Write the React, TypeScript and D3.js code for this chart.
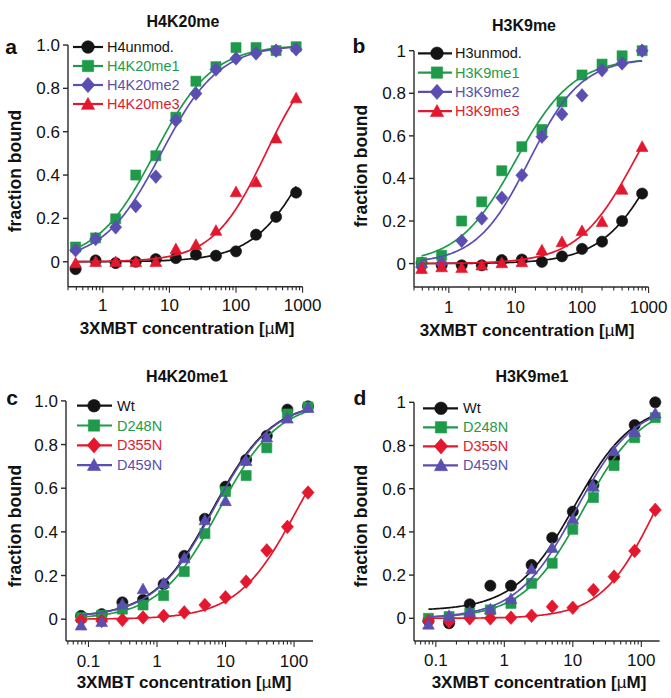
import React from "react";
import * as d3 from "d3";

// ---- concentrations (µM) ----
const concAB = [0.39, 0.78, 1.56, 3.125, 6.25, 12.5, 25, 50, 100, 200, 400, 800];
const concCD = [0.078, 0.156, 0.3125, 0.625, 1.25, 2.5, 5, 10, 20, 40, 80, 160];

// ---- panel a : H4K20me ----
const aH4unmod = [-0.034, 0.006, -0.006, 0, 0.012, 0.017, 0.033, 0.028, 0.048, 0.125, 0.207, 0.319];
const aH4K20me1 = [0.068, 0.11, 0.198, 0.4, 0.489, 0.667, 0.833, 0.9, 0.988, 0.988, 0.974, 0.992];
const aH4K20me2 = [0.053, 0.105, 0.159, 0.257, 0.393, 0.652, 0.776, 0.887, 0.938, 0.961, 0.974, 0.98];
const aH4K20me3 = [-0.006, 0, 0, 0, 0, 0.059, 0.079, 0.144, 0.322, 0.368, 0.57, 0.755];

// ---- panel b : H3K9me ----
const bH3unmod = [0.003, -0.008, -0.008, -0.008, 0.016, 0.019, 0.008, 0.034, 0.069, 0.103, 0.2, 0.329];
const bH3K9me1 = [0.005, 0.039, 0.2, 0.29, 0.436, 0.549, 0.63, 0.76, 0.886, 0.937, 0.976, 1.0];
const bH3K9me2 = [-0.016, 0, 0.107, 0.212, 0.309, 0.415, 0.596, 0.702, 0.79, 0.909, 0.94, 1.0];
const bH3K9me3 = [-0.024, -0.016, -0.02, -0.008, 0.003, 0.008, 0.063, 0.102, 0.154, 0.196, 0.348, 0.549];

// ---- panel c : H4K20me1 ----
const cWt = [0.015, 0.023, 0.077, 0.089, 0.16, 0.29, 0.46, 0.607, 0.73, 0.84, 0.96, 0.975];
const cD248N = [0.008, 0.018, 0.046, 0.065, 0.108, 0.218, 0.392, 0.585, 0.658, 0.785, 0.94, 0.972];
const cD355N = [-0.005, -0.008, -0.003, 0.008, 0.015, 0.031, 0.065, 0.1, 0.172, 0.315, 0.423, 0.58];
const cD459N = [-0.028, -0.012, 0.069, 0.138, 0.165, 0.28, 0.454, 0.542, 0.726, 0.834, 0.92, 0.969];

// ---- panel d : H3K9me1 ----
const dWt = [-0.01, -0.023, 0.065, 0.151, 0.151, 0.247, 0.373, 0.494, 0.617, 0.741, 0.895, 1.0];
const dD248N = [0, 0.008, 0.023, 0.039, 0.069, 0.162, 0.255, 0.412, 0.559, 0.707, 0.836, 0.929];
const dD355N = [-0.015, -0.015, 0, 0, 0.003, 0.012, 0.054, 0.049, 0.131, 0.193, 0.312, 0.502];
const dD459N = [-0.028, 0.012, 0.031, 0.043, 0.09, 0.228, 0.327, 0.46, 0.61, 0.775, 0.864, 0.949];

// ---- fitted binding curves: [bottom, top, Kd, Hill n] ----
const fitA = [[0, 1, 1500, 1], [0, 1, 6, 1], [0, 1, 7.5, 1], [0, 1, 280, 1.1]];
const fitB = [[0, 1, 1600, 1], [0, 0.965, 10, 1], [0, 0.965, 16, 1.1], [0, 1, 650, 1]];
const fitC = [[0.008, 1, 6.5, 1], [0, 1, 8, 1], [0, 1, 110, 1], [0.008, 1, 6.7, 1]];
const fitD = [[0.035, 1, 10.5, 1], [0, 1, 14, 1], [0, 1, 160, 1.1], [0, 1, 11, 1]];

// ---- labels ----
const namesA = ["H4unmod.", "H4K20me1", "H4K20me2", "H4K20me3"];
const namesB = ["H3unmod.", "H3K9me1", "H3K9me2", "H3K9me3"];
const namesCD = ["Wt", "D248N", "D355N", "D459N"];
const yTicks = [0, 0.2, 0.4, 0.6, 0.8, 1];

const BLACK = "#141414";
const GREEN = "#1f9a4a";
const PURPLE = "#5a4fb0";
const RED = "#e3172d";
const FONT = "'Liberation Sans', Arial, sans-serif";

type Shape = "circle" | "square" | "diamond" | "triangle";

function markerPath(shape: Shape, s: number): string {
  if (shape === "circle") {
    const r = s;
    return `M${-r},0A${r},${r} 0 1,0 ${r},0A${r},${r} 0 1,0 ${-r},0Z`;
  }
  if (shape === "square") {
    const h = s * 0.9;
    return `M${-h},${-h}H${h}V${h}H${-h}Z`;
  }
  if (shape === "diamond") {
    const w = s * 1.08, h = s * 1.22;
    return `M0,${-h}L${w},0L0,${h}L${-w},0Z`;
  }
  const w = s * 1.05, h = s * 1.0;
  return `M0,${-h * 1.05}L${w},${h * 0.85}L${-w},${h * 0.85}Z`;
}

interface Series {
  name: string;
  color: string;
  textColor: string;
  shape: Shape;
  values: number[];
  fit: number[];
}

interface PanelCfg {
  letter: string;
  title: string;
  conc: number[];
  series: Series[];
  xDomain: [number, number];
  xRange: [number, number];
  yDomain: [number, number];
  yRange: [number, number];
  yFmt: (v: number) => string;
  title_xy: [number, number];
  letter_xy: [number, number];
  ylab_xy: [number, number];
  xlab_xy: [number, number];
  xTickY: number;
  legend: { x0: number; x1: number; mx: number; tx: number; y0: number; dy: number };
}

const fmtA = (v: number) => (v === 0 ? "0" : v.toFixed(1));
const fmtB = (v: number) => (v === 0 ? "0" : v === 1 ? "1" : v.toFixed(1));

function hill(p: number[], x: number) {
  const [b, t, k, n] = p;
  const xn = Math.pow(x, n);
  return b + (t - b) * xn / (Math.pow(k, n) + xn);
}

function mkSeries(names: string[], vals: number[][], fits: number[][], cols: string[], shapes: Shape[]): Series[] {
  return names.map((n, i) => ({
    name: n,
    color: cols[i],
    textColor: cols[i],
    shape: shapes[i],
    values: vals[i],
    fit: fits[i],
  }));
}

const panels: PanelCfg[] = [
  {
    letter: "a",
    title: "H4K20me",
    conc: concAB,
    series: mkSeries(namesA, [aH4unmod, aH4K20me1, aH4K20me2, aH4K20me3], fitA,
      [BLACK, GREEN, PURPLE, RED], ["circle", "square", "diamond", "triangle"]),
    xDomain: [0.3, 1000],
    xRange: [68, 302.6],
    yDomain: [-0.115, 1],
    yRange: [286.7, 45],
    yFmt: fmtA,
    title_xy: [183, 27],
    letter_xy: [11, 54],
    ylab_xy: [21, 171],
    xlab_xy: [187, 334],
    xTickY: 311,
    legend: { x0: 73, x1: 103, mx: 88, tx: 107, y0: 47, dy: 19 },
  },
  {
    letter: "b",
    title: "H3K9me",
    conc: concAB,
    series: mkSeries(namesB, [bH3unmod, bH3K9me1, bH3K9me2, bH3K9me3], fitB,
      [BLACK, GREEN, PURPLE, RED], ["circle", "square", "diamond", "triangle"]),
    xDomain: [0.3, 1000],
    xRange: [414, 648.6],
    yDomain: [-0.11, 1],
    yRange: [287, 50.7],
    yFmt: fmtB,
    title_xy: [524, 31],
    letter_xy: [359, 53],
    ylab_xy: [367, 166],
    xlab_xy: [527, 336],
    xTickY: 313,
    legend: { x0: 418, x1: 452, mx: 437, tx: 455, y0: 53.3, dy: 19.3 },
  },
  {
    letter: "c",
    title: "H4K20me1",
    conc: concCD,
    series: mkSeries(namesCD, [cWt, cD248N, cD355N, cD459N], fitC,
      [BLACK, GREEN, RED, PURPLE], ["circle", "square", "diamond", "triangle"]),
    xDomain: [0.047, 189],
    xRange: [66, 313],
    yDomain: [-0.1, 1],
    yRange: [641, 400.9],
    yFmt: fmtA,
    title_xy: [187, 382],
    letter_xy: [12, 405],
    ylab_xy: [21, 526],
    xlab_xy: [184, 688],
    xTickY: 667,
    legend: { x0: 77, x1: 112, mx: 94, tx: 117, y0: 405.7, dy: 19.8 },
  },
  {
    letter: "d",
    title: "H3K9me1",
    conc: concCD,
    series: mkSeries(namesCD, [dWt, dD248N, dD355N, dD459N], fitD,
      [BLACK, GREEN, RED, PURPLE], ["circle", "square", "diamond", "triangle"]),
    xDomain: [0.048, 185],
    xRange: [414, 659.6],
    yDomain: [-0.105, 1],
    yRange: [641, 402.3],
    yFmt: fmtB,
    title_xy: [532, 382],
    letter_xy: [360, 405],
    ylab_xy: [367, 526],
    xlab_xy: [539, 688],
    xTickY: 666,
    legend: { x0: 423, x1: 458, mx: 441, tx: 463, y0: 408.3, dy: 19 },
  },
];

function Panel({ cfg }: { cfg: PanelCfg }) {
  const x = d3.scaleLog().domain(cfg.xDomain).range(cfg.xRange);
  const y = d3.scaleLinear().domain(cfg.yDomain).range(cfg.yRange);
  const axisColor = "#2a2a2a";
  const x0 = cfg.xRange[0];
  const yBottom = cfg.yRange[0];
  const yTop = y(1);

  const allTicks = x.ticks(30).filter((t) => t >= cfg.xDomain[0] && t <= cfg.xDomain[1]);
  const isMajor = (t: number) => Math.abs(Math.log10(t) - Math.round(Math.log10(t))) < 1e-6;
  const majors = allTicks.filter(isMajor);

  const line = d3.line<[number, number]>().x((d) => x(d[0])).y((d) => y(d[1])).curve(d3.curveLinear);

  const curves = cfg.series.map((s) => {
    const lo = Math.log10(cfg.conc[0]);
    const hi = Math.log10(cfg.conc[cfg.conc.length - 1]);
    const pts: [number, number][] = d3.range(0, 161).map((i) => {
      const cx = Math.pow(10, lo + ((hi - lo) * i) / 160);
      return [cx, hill(s.fit, cx)];
    });
    return line(pts) || "";
  });

  const fmtX = (t: number) => (t < 1 ? String(t) : d3.format("d")(t));

  return (
    <g>
      <text x={cfg.title_xy[0]} y={cfg.title_xy[1]} textAnchor="middle" fontSize={16} fontWeight="bold" fill="#111">
        {cfg.title}
      </text>
      <text x={cfg.letter_xy[0]} y={cfg.letter_xy[1]} textAnchor="middle" fontSize={21} fontWeight="bold" fill="#111">
        {cfg.letter}
      </text>

      {/* y axis */}
      <line x1={x0} x2={x0} y1={yTop} y2={yBottom} stroke={axisColor} strokeWidth={1.4} />
      {yTicks.map((t) => (
        <g key={"y" + t}>
          <line x1={x0 - 5} x2={x0} y1={y(t)} y2={y(t)} stroke={axisColor} strokeWidth={1.4} />
          <text x={x0 - 8} y={y(t) + 6} textAnchor="end" fontSize={17} fill="#111">
            {cfg.yFmt(t)}
          </text>
        </g>
      ))}

      {/* x axis */}
      <line x1={x0} x2={cfg.xRange[1]} y1={yBottom} y2={yBottom} stroke={axisColor} strokeWidth={1.4} />
      {allTicks.map((t, i) => (
        <line
          key={"xt" + i}
          x1={x(t)}
          x2={x(t)}
          y1={yBottom}
          y2={yBottom + (isMajor(t) ? 6 : 3.5)}
          stroke={axisColor}
          strokeWidth={1.1}
        />
      ))}
      {majors.map((t) => (
        <text key={"xl" + t} x={x(t)} y={cfg.xTickY} textAnchor="middle" fontSize={17} fill="#111">
          {fmtX(t)}
        </text>
      ))}

      {/* axis titles */}
      <text
        transform={`translate(${cfg.ylab_xy[0]},${cfg.ylab_xy[1]}) rotate(-90)`}
        textAnchor="middle"
        fontSize={17.5}
        fontWeight="bold"
        fill="#111"
      >
        fraction bound
      </text>
      <text x={cfg.xlab_xy[0]} y={cfg.xlab_xy[1]} textAnchor="middle" fontSize={17} fontWeight="bold" fill="#111">
        3XMBT concentration [<tspan fontWeight="normal">µ</tspan>M]
      </text>

      {/* series */}
      {cfg.series.map((s, si) => (
        <g key={s.name}>
          <path d={curves[si]} fill="none" stroke={s.color} strokeWidth={1.7} />
          {s.values.map((v, i) => (
            <path
              key={i}
              d={markerPath(s.shape, 5.6)}
              transform={`translate(${x(cfg.conc[i])},${y(v)})`}
              fill={s.color}
              stroke={s.color}
              strokeWidth={0.6}
            />
          ))}
        </g>
      ))}

      {/* legend */}
      {cfg.series.map((s, i) => {
        const ly = cfg.legend.y0 + i * cfg.legend.dy;
        return (
          <g key={"lg" + s.name}>
            <line x1={cfg.legend.x0} x2={cfg.legend.x1} y1={ly} y2={ly} stroke={s.color} strokeWidth={2.2} />
            <path
              d={markerPath(s.shape, 6.3)}
              transform={`translate(${cfg.legend.mx},${ly})`}
              fill={s.color}
              stroke={s.color}
              strokeWidth={0.6}
            />
            <text x={cfg.legend.tx} y={ly + 5} fontSize={14.5} fill={s.textColor}>
              {s.name}
            </text>
          </g>
        );
      })}
    </g>
  );
}

export default function App() {
  return (
    <svg
      width={671}
      height={698}
      viewBox="0 0 671 698"
      style={{ position: "absolute", left: 0, top: 0, background: "#fff" }}
      fontFamily={FONT}
    >
      <rect x={0} y={0} width={671} height={698} fill="#fff" />
      {panels.map((p) => (
        <Panel key={p.letter} cfg={p} />
      ))}
    </svg>
  );
}
